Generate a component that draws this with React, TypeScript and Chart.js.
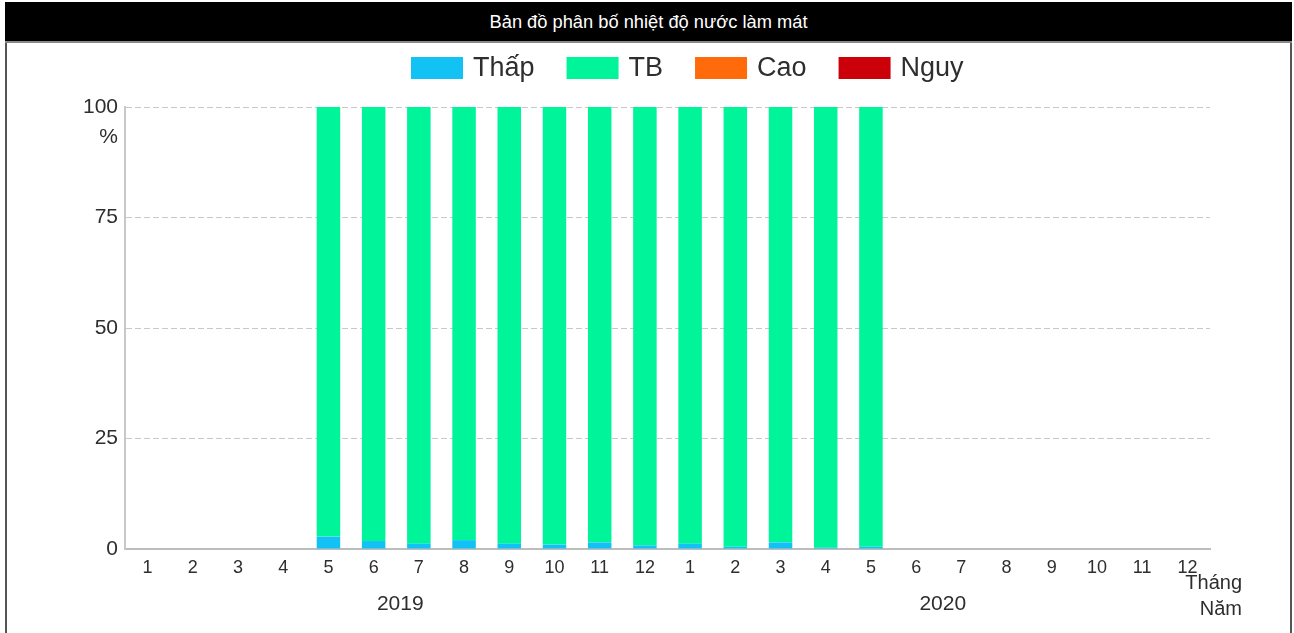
import React, { useEffect, useRef } from "react";
import { Chart, registerables } from "chart.js";

Chart.register(...registerables);

const TITLE = "Bản đồ phân bố nhiệt độ nước làm mát";
const MONTHS = ["1", "2", "3", "4", "5", "6", "7", "8", "9", "10", "11", "12", "1", "2", "3", "4", "5", "6", "7", "8", "9", "10", "11", "12"];
const YEARS = ["2019", "2020"];
const Y_TICKS = [0, 25, 50, 75, 100];
const Y_UNIT = "%";
const X_TITLE_1 = "Tháng";
const X_TITLE_2 = "Năm";

const SERIES_NAMES = ["Thấp", "TB", "Cao", "Nguy"];
const SERIES_COLORS = ["#12C2F4", "#00F59A", "#FF6A0A", "#CC0008"];

const THAP = [null, null, null, null, 2.8, 1.8, 1.2, 2.0, 1.2, 1.0, 1.5, 0.8, 1.2, 0.5, 1.5, 0.3, 0.5, null, null, null, null, null, null, null];
const TB = [null, null, null, null, 97.2, 98.2, 98.8, 98.0, 98.8, 99.0, 98.5, 99.2, 98.8, 99.5, 98.5, 99.7, 99.5, null, null, null, null, null, null, null];
const CAO = [null, null, null, null, 0, 0, 0, 0, 0, 0, 0, 0, 0, 0, 0, 0, 0, null, null, null, null, null, null, null];
const NGUY = [null, null, null, null, 0, 0, 0, 0, 0, 0, 0, 0, 0, 0, 0, 0, 0, null, null, null, null, null, null, null];

const FONT = "'Liberation Sans', Arial, sans-serif";
const TEXT = "#2e2e2e";

const extrasPlugin = {
  id: "extras",
  afterDraw(chart: any) {
    const ctx = chart.ctx;
    const area = chart.chartArea;
    const x = chart.scales.x;
    const y = chart.scales.y;
    ctx.save();
    // legend
    ctx.font = `27px ${FONT}`;
    ctx.textBaseline = "middle";
    ctx.textAlign = "left";
    let lx = 411;
    const boxTop = 16;
    chart.data.datasets.forEach((ds: any) => {
      ctx.fillStyle = ds.backgroundColor;
      ctx.fillRect(lx, boxTop, 52, 22);
      ctx.fillStyle = TEXT;
      ctx.fillText(ds.label, lx + 62, boxTop + 12);
      lx += 62 + ctx.measureText(ds.label).width + 32;
    });
    // y unit
    ctx.font = `21px ${FONT}`;
    ctx.textAlign = "right";
    ctx.fillStyle = TEXT;
    ctx.fillText(Y_UNIT, area.left - 7, y.getPixelForValue(100) + 30);
    // years
    ctx.textAlign = "center";
    ctx.font = `21px ${FONT}`;
    YEARS.forEach((yr, i) => {
      const a = x.getPixelForValue(i * 12);
      const b = x.getPixelForValue(i * 12 + 11);
      ctx.fillText(yr, (a + b) / 2 + 4, area.bottom + 55);
    });
    // axis titles
    ctx.textAlign = "right";
    ctx.font = `20px ${FONT}`;
    ctx.fillText(X_TITLE_1, area.right + 32, area.bottom + 34);
    ctx.fillText(X_TITLE_2, area.right + 32, area.bottom + 60);
    ctx.restore();
  },
};

export default function App() {
  const ref = useRef<HTMLCanvasElement | null>(null);
  useEffect(() => {
    if (!ref.current) return;
    const seriesData = [THAP, TB, CAO, NGUY];
    const chart = new Chart(ref.current, {
      type: "bar",
      data: {
        labels: MONTHS.map((m, i) => `${m}-${i}`),
        datasets: SERIES_NAMES.map((name, i) => ({
          label: name,
          data: seriesData[i] as any,
          backgroundColor: SERIES_COLORS[i],
          borderWidth: 0,
          barPercentage: 0.52,
          categoryPercentage: 1,
        })),
      },
      options: {
        responsive: false,
        animation: false,
        devicePixelRatio: 1,
        layout: { padding: { left: 65, right: 84, top: 66, bottom: 44 } },
        plugins: { legend: { display: false }, tooltip: { enabled: false }, title: { display: false } },
        scales: {
          x: {
            stacked: true,
            offset: true,
            grid: { display: false, drawTicks: false },
            border: { display: true, color: "#bdbdbd", width: 2 },
            ticks: {
              autoSkip: false,
              maxRotation: 0,
              padding: 8,
              color: TEXT,
              font: { family: FONT, size: 18 },
              callback: (_v: any, i: number) => MONTHS[i],
            },
            afterFit: (s: any) => { s.height = 40; },
          },
          y: {
            stacked: true,
            min: 0,
            max: 100,
            afterBuildTicks: (s: any) => { s.ticks = Y_TICKS.map((v) => ({ value: v })); },
            grid: {
              drawTicks: false,
              color: (c: any) => (c.tick && c.tick.value === 0 ? "rgba(0,0,0,0)" : "#c8c8c8"),
              lineWidth: 1,
            },
            border: { display: true, color: "#c8c8c8", width: 2, dash: [6, 3] },
            ticks: {
              padding: 7,
              color: TEXT,
              font: { family: FONT, size: 21 },
            },
            afterFit: (s: any) => { s.width = 60; },
          },
        },
      },
      plugins: [extrasPlugin],
    });
    return () => chart.destroy();
  }, []);

  return (
    <div style={{ position: "absolute", left: 0, top: 0, width: 1294, height: 633, overflow: "hidden", background: "#fff" }}>
      <canvas ref={ref} width={1294} height={592} style={{ position: "absolute", left: 0, top: 41, width: 1294, height: 592 }} />
      <div style={{ position: "absolute", left: 5, top: 2, width: 1287, height: 700, boxSizing: "border-box", borderLeft: "2px solid #555", borderRight: "2px solid #555", pointerEvents: "none" }} />
      <div style={{ position: "absolute", left: 5, top: 2, width: 1287, height: 41, boxSizing: "border-box", background: "#000", borderBottom: "2px solid #888", color: "#fff", fontFamily: FONT, fontSize: 18.3, lineHeight: "39px", textAlign: "center" }}>
        {TITLE}
      </div>
    </div>
  );
}
